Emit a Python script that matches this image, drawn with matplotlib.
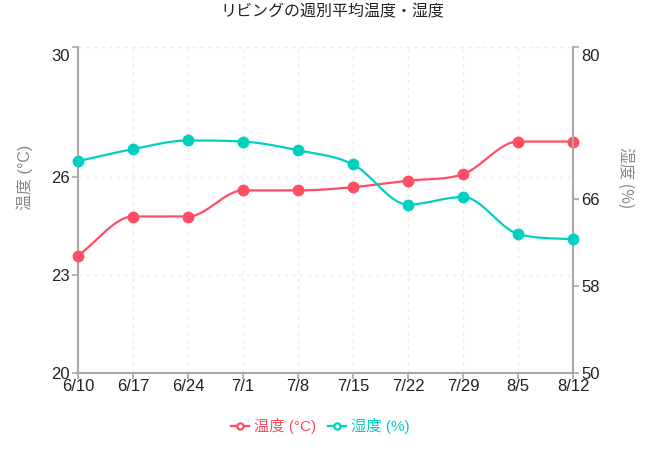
import numpy as np
import matplotlib
matplotlib.use("Agg")
import matplotlib.pyplot as plt
import matplotlib.transforms as mtransforms
from matplotlib.lines import Line2D

plt.rcParams['font.family'] = ['Liberation Sans', 'Noto Sans CJK JP', 'DejaVu Sans']

weeks = ["6/10", "6/17", "6/24", "7/1", "7/8", "7/15", "7/22", "7/29", "8/5", "8/12"]
temp = [23.6, 24.8, 24.8, 25.6, 25.6, 25.7, 25.9, 26.1, 27.1, 27.1]
humid = [69.5, 70.6, 71.4, 71.3, 70.5, 69.2, 65.5, 66.2, 62.8, 62.3]

red = "#FF4D62"
cyan = "#00D0C0"
axis_gray = "#A8A8A8"


def monotone(x, y, n=30):
    # Fritsch-Carlson monotone cubic, just for a smooth line between points
    x = np.asarray(x, float)
    y = np.asarray(y, float)
    h = np.diff(x)
    d = np.diff(y) / h
    m = np.zeros_like(y)
    m[0], m[-1] = d[0], d[-1]
    for i in range(1, len(y) - 1):
        if d[i - 1] * d[i] <= 0:
            m[i] = 0
        else:
            m[i] = (d[i - 1] + d[i]) / 2
    for i in range(len(d)):
        if d[i] == 0:
            m[i] = m[i + 1] = 0
            continue
        a, b = m[i] / d[i], m[i + 1] / d[i]
        s = a * a + b * b
        if s > 9:
            t = 3 / np.sqrt(s)
            m[i] = t * a * d[i]
            m[i + 1] = t * b * d[i]
    xs, ys = [], []
    for i in range(len(d)):
        t = np.linspace(0, 1, n)
        h00 = 2 * t**3 - 3 * t**2 + 1
        h10 = t**3 - 2 * t**2 + t
        h01 = -2 * t**3 + 3 * t**2
        h11 = t**3 - t**2
        xs.append(x[i] + t * h[i])
        ys.append(h00 * y[i] + h10 * h[i] * m[i] + h01 * y[i + 1] + h11 * h[i] * m[i + 1])
    return np.concatenate(xs), np.concatenate(ys)


fig = plt.figure(figsize=(6.48, 4.58), dpi=100)
ax = fig.add_axes([78 / 648, 85 / 458, 495 / 648, 326 / 458])
ax2 = ax.twinx()

x = np.arange(len(weeks))
sx, sy = monotone(x, temp)
ax.plot(sx, sy, color=red, lw=1.6, zorder=3)
ax.plot(x, temp, 'o', color=red, ms=7.5, zorder=4, clip_on=False)
hx, hy = monotone(x, humid)
ax2.plot(hx, hy, color=cyan, lw=1.6, zorder=3)
ax2.plot(x, humid, 'o', color=cyan, ms=7.5, zorder=4, clip_on=False)

ax.set_xlim(0, len(weeks) - 1)
ax.set_ylim(20, 30)
ax2.set_ylim(50, 80)
ax.set_yticks([20, 23, 26, 30])
ax2.set_yticks([50, 58, 66, 80])
ax.set_xticks(x)
ax.set_xticklabels(weeks)

for a in (ax, ax2):
    for s in a.spines.values():
        s.set_visible(False)
ax.spines['left'].set_visible(True)
ax.spines['bottom'].set_visible(True)
ax2.spines['right'].set_visible(True)
for s in (ax.spines['left'], ax.spines['bottom'], ax2.spines['right']):
    s.set_color(axis_gray)
    s.set_linewidth(1.5)

ax.tick_params(axis='both', colors=axis_gray, labelcolor='#222222', labelsize=12, length=4, width=1.2)
ax.tick_params(axis='x', pad=0)
ax.tick_params(axis='y', pad=2)
ax2.tick_params(axis='y', colors=axis_gray, labelcolor='#222222', labelsize=12, length=4, width=1.2, pad=2)

# top labels sit a bit lower than their ticks
off = mtransforms.ScaledTranslation(0, -8 / 100, fig.dpi_scale_trans)
for a in (ax, ax2):
    labs = a.get_yticklabels()
    labs[-1].set_transform(labs[-1].get_transform() + off)

ax.grid(True, color='#ECECEC', linestyle=(0, (2.5, 3)), linewidth=1)
ax.set_axisbelow(True)

ax.set_ylabel("温度 (°C)", color='#888888', fontsize=11.5)
ax.yaxis.set_label_coords(-0.091, 0.6)
ax2.set_ylabel("湿度 (%)", color='#888888', fontsize=11.5, rotation=270, family=['Noto Sans CJK JP'])
ax2.yaxis.set_label_coords(1.124, 0.6)

fig.text(332 / 648, 1 - 12 / 458, "リビングの週別平均温度・湿度", ha='center', va='center', fontsize=11.5, color='#222222')

handles = [
    Line2D([0], [0], color=red, lw=1.6, marker='o', ms=4.5, mfc='white', mec=red, mew=1.6),
    Line2D([0], [0], color=cyan, lw=1.6, marker='o', ms=4.5, mfc='white', mec=cyan, mew=1.6),
]
leg = fig.legend(handles, ["温度 (°C)", "湿度 (%)"], loc='center', bbox_to_anchor=(320 / 648, 1 - 426 / 458),
                 ncol=2, frameon=False, fontsize=11, handlelength=1.2, handletextpad=0.3, columnspacing=0.8)
for t, c in zip(leg.get_texts(), (red, cyan)):
    t.set_color(c)

fig.savefig("out.png", dpi=100)
